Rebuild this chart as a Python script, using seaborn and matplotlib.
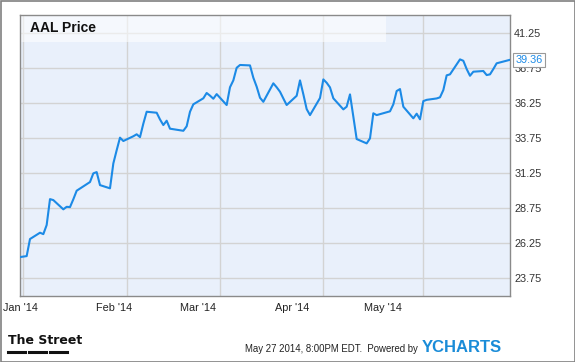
import matplotlib
matplotlib.use("Agg")
import matplotlib.pyplot as plt
from matplotlib.patches import Rectangle
from matplotlib.lines import Line2D
import seaborn as sns
import pandas as pd

# ---- data ----
dates = [
    "2013-12-31", "2014-01-02", "2014-01-03", "2014-01-06", "2014-01-07", "2014-01-08",
    "2014-01-09", "2014-01-10", "2014-01-13", "2014-01-14", "2014-01-15", "2014-01-16",
    "2014-01-17", "2014-01-21", "2014-01-22", "2014-01-23", "2014-01-24", "2014-01-27",
    "2014-01-28", "2014-01-29", "2014-01-30", "2014-01-31",
    "2014-02-03", "2014-02-04", "2014-02-05", "2014-02-06", "2014-02-07", "2014-02-10",
    "2014-02-11", "2014-02-12", "2014-02-13", "2014-02-14", "2014-02-18", "2014-02-19",
    "2014-02-20", "2014-02-21", "2014-02-24", "2014-02-25", "2014-02-26", "2014-02-27",
    "2014-02-28",
    "2014-03-03", "2014-03-04", "2014-03-05", "2014-03-06", "2014-03-07", "2014-03-10",
    "2014-03-11", "2014-03-12", "2014-03-13", "2014-03-14", "2014-03-17", "2014-03-18",
    "2014-03-19", "2014-03-20", "2014-03-21", "2014-03-24", "2014-03-25", "2014-03-26",
    "2014-03-27", "2014-03-28", "2014-03-31",
    "2014-04-01", "2014-04-02", "2014-04-03", "2014-04-04", "2014-04-07", "2014-04-08",
    "2014-04-09", "2014-04-10", "2014-04-11", "2014-04-14", "2014-04-15", "2014-04-16",
    "2014-04-17", "2014-04-21", "2014-04-22", "2014-04-23", "2014-04-24", "2014-04-25",
    "2014-04-28", "2014-04-29", "2014-04-30",
    "2014-05-01", "2014-05-02", "2014-05-05", "2014-05-06", "2014-05-07", "2014-05-08",
    "2014-05-09", "2014-05-12", "2014-05-13", "2014-05-14", "2014-05-15", "2014-05-16",
    "2014-05-19", "2014-05-20", "2014-05-21", "2014-05-22", "2014-05-23", "2014-05-27",
]
prices = [
    25.27, 25.34, 26.56, 27.01, 26.91, 27.56,
    29.41, 29.34, 28.68, 28.86, 28.84, 29.40,
    30.01, 30.63, 31.25, 31.34, 30.41, 30.18,
    31.96, 32.90, 33.80, 33.56,
    33.90, 34.04, 33.84, 34.80, 35.65, 35.58,
    35.10, 34.70, 35.01, 34.44, 34.29, 34.61,
    35.65, 36.18, 36.61, 36.99, 36.80, 36.58,
    36.91,
    36.13, 37.40, 37.89, 38.79, 38.99, 38.96,
    38.08, 37.44, 36.65, 36.36, 37.68, 37.40,
    37.08, 36.60, 36.13, 36.79, 37.89, 36.90,
    35.84, 35.41, 36.63,
    37.96, 37.72, 37.39, 36.61, 35.82, 36.01,
    36.89, 35.30, 33.70, 33.39, 33.75, 35.54,
    35.41, 35.68, 36.18, 37.13, 37.27, 36.01,
    35.18, 35.51, 35.11,
    36.41, 36.50, 36.60, 36.68, 37.20, 38.25,
    38.32, 39.39, 39.29, 38.70, 38.22, 38.51,
    38.56, 38.27, 38.32, 38.70, 39.11, 39.36,
]
month_ticks = ["2014-01-01", "2014-02-01", "2014-03-01", "2014-04-01", "2014-05-01"]
month_labels = ["Jan '14", "Feb '14", "Mar '14", "Apr '14", "May '14"]
y_ticks = [23.75, 26.25, 28.75, 31.25, 33.75, 36.25, 38.75, 41.25]
title = "AAL Price"
last_label = "39.36"
footer_text = "May 27 2014, 8:00PM EDT.  Powered by"

df = pd.DataFrame({"date": pd.to_datetime(dates), "price": prices})

W, H = 575, 362
fig = plt.figure(figsize=(W / 100, H / 100), dpi=100)
fig.patch.set_facecolor("white")
plt.rcParams["font.family"] = ["Liberation Sans", "DejaVu Sans"]

L, R, T, B = 20, 510, 15, 296
ax = fig.add_axes([L / W, 1 - B / H, (R - L) / W, (B - T) / H])
ax.set_facecolor("#E9F0FB")

line_color = "#1C8AE6"
sns.lineplot(data=df, x="date", y="price", ax=ax, color=line_color, linewidth=1.5, zorder=3)

ax.set_xlim(pd.Timestamp("2013-12-31"), pd.Timestamp("2014-05-27"))
ax.set_ylim(22.49, 42.56)
ax.set_xlabel("")
ax.set_ylabel("")

ax.set_xticks(pd.to_datetime(month_ticks))
ax.set_xticklabels([])
ax.set_yticks(y_ticks)
ax.yaxis.tick_right()
ax.set_yticklabels([f"{v:.2f}" for v in y_ticks], fontsize=7.8, color="#333333")
ax.tick_params(axis="both", length=0, pad=3)
ax.grid(True, color="#D3D3D3", linewidth=1.0, zorder=1)
ax.set_axisbelow(True)
for s in ax.spines.values():
    s.set_color("#8A8A8A")
    s.set_linewidth(1.0)

# title band
band = Rectangle((0, 1 - (42 - T) / (B - T)), (386 - L) / (R - L), (42 - T) / (B - T),
                 transform=ax.transAxes, facecolor="white", alpha=0.55,
                 edgecolor="none", zorder=2)
ax.add_patch(band)
fig.text(30 / W, 1 - 28 / H, title, fontsize=10, fontweight="bold",
         color="#111111", va="center", ha="left")

# month labels
label_x = [20, 114, 198, 292, 383]
for xp, lab in zip(label_x, month_labels):
    fig.text(xp / W, 1 - 308 / H, lab, fontsize=7.8, color="#222222",
             ha="center", va="center")

# last value callout
ax.annotate(last_label, xy=(df["date"].iloc[-1], prices[-1]), xycoords="data",
            xytext=(4, 0), textcoords="offset points", fontsize=7.8,
            color=line_color, va="center", ha="left", annotation_clip=False,
            bbox=dict(boxstyle="square,pad=0.2", facecolor="white",
                      edgecolor="#999999", linewidth=0.8), zorder=5)

# footer
fig.text(8 / W, 1 - 340 / H, "The Street", fontsize=9, fontweight="bold",
         color="#111111", ha="left", va="center", family=["DejaVu Sans"])
for x0 in (8, 29, 50):
    fig.add_artist(Line2D([x0 / W, (x0 + 17) / W], [1 - 352 / H, 1 - 352 / H],
                          color="#111111", linewidth=2.2, transform=fig.transFigure))
fig.text(245 / W, 1 - 349 / H, footer_text, fontsize=6.9, color="#222222",
         ha="left", va="center")
fig.text(422 / W, 1 - 347.5 / H, "YCHARTS", fontsize=12, fontweight="bold",
         color="#1A8CD8", ha="left", va="center")

# outer frame
fig.add_artist(Rectangle((0.5 / W, 0.5 / H), (W - 1) / W, (H - 1) / H,
                         transform=fig.transFigure, fill=False,
                         edgecolor="#808080", linewidth=1.2))

fig.savefig("out.png", dpi=100)
